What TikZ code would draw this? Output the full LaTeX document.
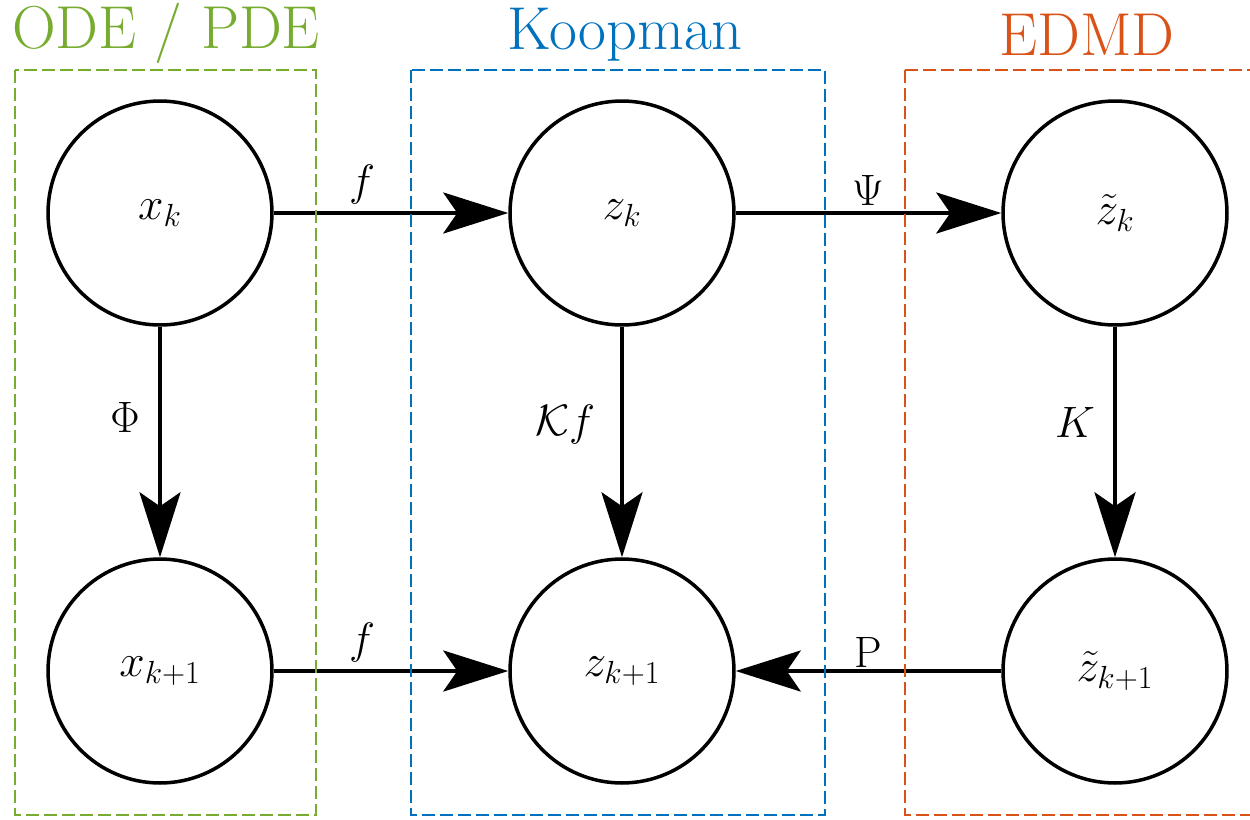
\RequirePackage{fix-cm}
\documentclass[tikz,border=0pt]{standalone}
\usepackage{amsmath}
\usepackage{fontspec}
\usetikzlibrary{arrows.meta}
\definecolor{mgreen}{HTML}{77AC30}
\definecolor{mblue}{HTML}{0072BD}
\definecolor{morange}{HTML}{D95319}
\tikzset{
  state/.style={circle, draw=black, line width=2pt, minimum size=4.48cm, inner sep=0pt, font=\fontsize{26}{30}\selectfont},
  arr/.style={line width=2.4pt, -{Stealth[length=1.3cm, width=0.82cm, inset=0.28cm]}},
  lbl/.style={font=\fontsize{25}{30}\selectfont, inner sep=0pt},
  frame/.style={line width=1.5pt, dash pattern=on 0.26cm off 0.1cm},
  ttl/.style={font=\fontsize{34.5}{40}\selectfont, inner sep=0pt}
}
\begin{document}
\begin{tikzpicture}[x=0.02cm, y=-0.02cm]
\useasboundingbox (0,0) rectangle (1250,819);
% nodes
\node[state] (xk)  at (160,213) {$x_k$};
\node[state] (zk)  at (622,213) {$z_k$};
\node[state] (tzk) at (1115,213) {$\tilde{z}_k$};
\node[state] (xk1)  at (160,671) {$x_{k+1}$};
\node[state] (zk1)  at (622,671) {$z_{k+1}$};
\node[state] (tzk1) at (1115,671) {$\tilde{z}_{k+1}$};
% arrows
\draw[arr] (xk) -- (zk);
\draw[arr] (zk) -- (tzk);
\draw[arr] (xk) -- (xk1);
\draw[arr] (zk) -- (zk1);
\draw[arr] (tzk) -- (tzk1);
\draw[arr] (xk1) -- (zk1);
\draw[arr] (tzk1) -- (zk1);
% labels
\node[lbl] (lf1) at (362,185) {$f$};
\node[lbl] (lpsi) at (868,190) {$\Psi$};
\node[lbl] (lphi) at (125,417) {$\Phi$};
\node[lbl] (lkf) at (565,425) {$\mathcal{K}f$};
\node[lbl] (lK) at (1075,422) {$K$};
\node[lbl] (lf2) at (362,643) {$f$};
\node[lbl] (lP) at (868,652) {$\mathrm{P}$};
% frames
\draw[frame, mgreen] (15,70) rectangle (316,815);
\draw[frame, mblue] (411,70) rectangle (825,815);
\draw[frame, morange] (905,70) -- (1260,70);
\draw[frame, morange] (905,70) -- (905,815) -- (1260,815);
% titles
\node[ttl, text=mgreen] (t1) at (166,33) {ODE / PDE};
\node[ttl, text=mblue] (t2) at (625,35) {Koopman};
\node[ttl, text=morange] (t3) at (1087,35) {EDMD};
\end{tikzpicture}
\end{document}
